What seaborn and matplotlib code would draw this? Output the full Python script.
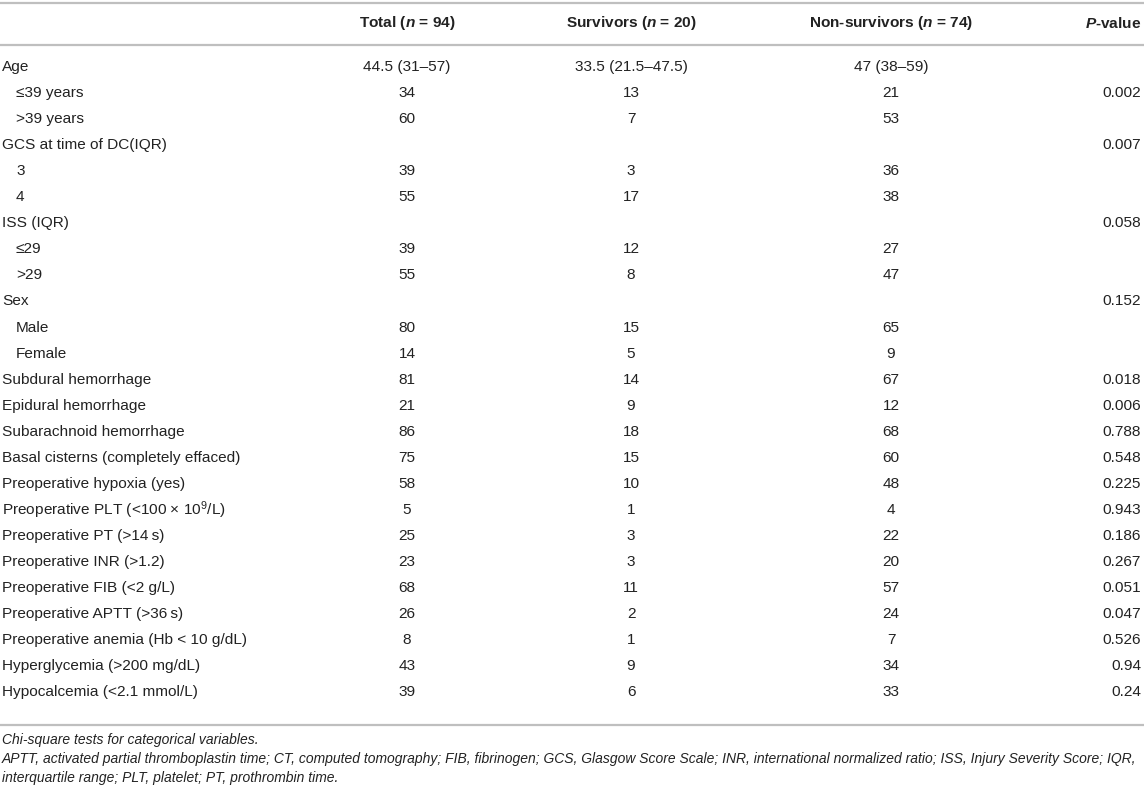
import matplotlib
matplotlib.use("Agg")
from matplotlib import pyplot as plt
import seaborn as sns

labels = ["Age", "≤39 years", ">39 years", "GCS at time of DC(IQR)", "3", "4",
          "ISS (IQR)", "≤29", ">29", "Sex", "Male", "Female",
          "Subdural hemorrhage", "Epidural hemorrhage", "Subarachnoid hemorrhage",
          "Basal cisterns (completely effaced)", "Preoperative hypoxia (yes)",
          "Preoperative PLT (<100 × 10$^{9}$/L)", "Preoperative PT (>14\u2009s)",
          "Preoperative INR (>1.2)", "Preoperative FIB (<2 g/L)",
          "Preoperative APTT (>36\u2009s)", "Preoperative anemia (Hb < 10 g/dL)",
          "Hyperglycemia (>200 mg/dL)", "Hypocalcemia (<2.1 mmol/L)"]
indent = [0, 1, 1, 0, 1, 1, 0, 1, 1, 0, 1, 1, 0, 0, 0, 0, 0, 0, 0, 0, 0, 0, 0, 0, 0]
total = ["44.5 (31–57)", "34", "60", "", "39", "55", "", "39", "55", "", "80", "14",
         "81", "21", "86", "75", "58", "5", "25", "23", "68", "26", "8", "43", "39"]
survivors = ["33.5 (21.5–47.5)", "13", "7", "", "3", "17", "", "12", "8", "", "15", "5",
             "14", "9", "18", "15", "10", "1", "3", "3", "11", "2", "1", "9", "6"]
non_survivors = ["47 (38–59)", "21", "53", "", "36", "38", "", "27", "47", "", "65", "9",
                 "67", "12", "68", "60", "48", "4", "22", "20", "57", "24", "7", "34", "33"]
p_values = ["", "0.002", "", "0.007", "", "", "0.058", "", "", "0.152", "", "",
            "0.018", "0.006", "0.788", "0.548", "0.225", "0.943", "0.186", "0.267",
            "0.051", "0.047", "0.526", "0.94", "0.24"]
headers = [r"Total ($\it{n}$ = 94)", r"Survivors ($\it{n}$ = 20)",
           r"Non-survivors ($\it{n}$ = 74)", r"$\it{P}$-value"]
footnotes = ["Chi-square tests for categorical variables.",
             "APTT, activated partial thromboplastin time; CT, computed tomography; FIB, fibrinogen; "
             "GCS, Glasgow Score Scale; INR, international normalized ratio; ISS, Injury Severity Score; IQR,",
             "interquartile range; PLT, platelet; PT, prothrombin time."]

sns.set_theme(style="white")
plt.rcParams["font.family"] = ["Liberation Sans", "DejaVu Sans"]
plt.rcParams["mathtext.fontset"] = "custom"
plt.rcParams["mathtext.rm"] = "Liberation Sans"
plt.rcParams["mathtext.it"] = "Liberation Sans:italic:bold"
plt.rcParams["mathtext.bf"] = "Liberation Sans:bold"

txt = "#222222"
rule = "#bfbfbf"
fs = 11.1

fig = plt.figure(figsize=(11.44, 7.89), dpi=100)
ax = fig.add_axes([0, 0, 1, 1])
ax.set_xlim(0, 1144)
ax.set_ylim(789, 0)
ax.axis("off")

# rules
for y in [3, 45, 725]:
    ax.axhline(y, color=rule, lw=1.6)

col_x = [407, 631, 891]
y_head = 23
for h, x in zip(headers[:3], col_x):
    ax.text(x, y_head, h, ha="center", va="center", fontsize=fs, fontweight="bold", color=txt)
ax.text(1141, y_head, headers[3], ha="right", va="center", fontsize=fs, fontweight="bold", color=txt)

row0, step = 67, 26.05
for i, lab in enumerate(labels):
    y = row0 + i * step
    ax.text(2 + 14 * indent[i], y, lab, ha="left", va="center", fontsize=fs, color=txt)
    for col, x in zip([total, survivors, non_survivors], col_x):
        ax.text(x, y, col[i], ha="center", va="center", fontsize=fs, color=txt)
    ax.text(1141, y, p_values[i], ha="right", va="center", fontsize=fs, color=txt)

for j, note in enumerate(footnotes):
    ax.text(2, 740 + j * 19, note, ha="left", va="center", fontsize=10.0,
            style="italic", color=txt)

plt.savefig("out.png", dpi=100)
